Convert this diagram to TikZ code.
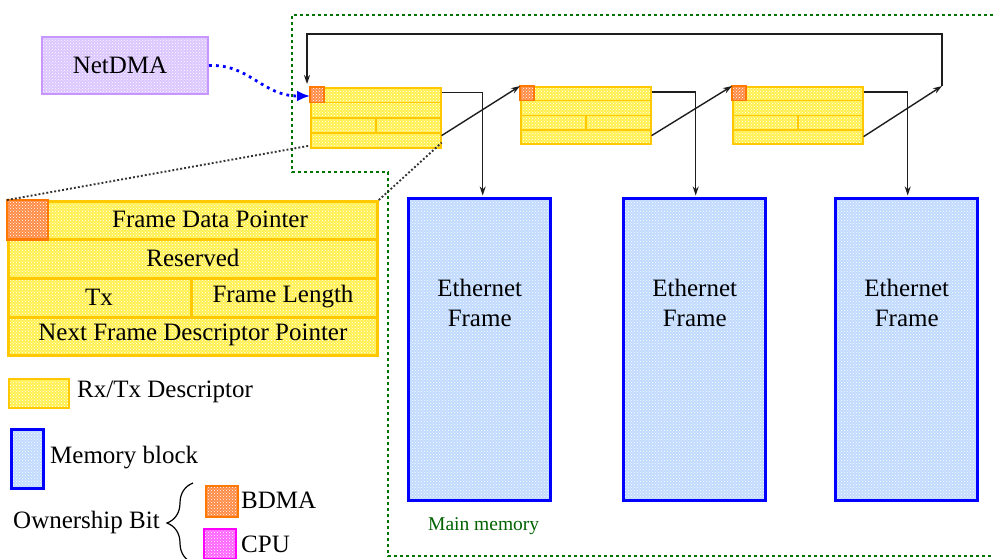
\documentclass[tikz,border=0pt]{standalone}
\usepackage{fontspec}
\setmainfont{Liberation Serif}
\usetikzlibrary{arrows.meta,calc,patterns,decorations.pathreplacing}

\definecolor{descfill}{RGB}{255,240,80}
\definecolor{descedge}{RGB}{255,200,0}
\definecolor{memfill}{RGB}{192,218,255}
\definecolor{memedge}{RGB}{0,0,255}
\definecolor{netfill}{RGB}{220,198,255}
\definecolor{netedge}{RGB}{200,150,255}
\definecolor{bdmafill}{RGB}{255,140,70}
\definecolor{bdmaedge}{RGB}{255,120,0}
\definecolor{cpufill}{RGB}{255,100,255}
\definecolor{cpuedge}{RGB}{255,0,255}
\definecolor{framegreen}{RGB}{0,115,0}
\definecolor{conncol}{RGB}{30,30,30}

\tikzset{
  dotted texture/.style={preaction={fill=#1},
    preaction={pattern=crosshatch dots, pattern color=white}},
  descbox/.style={dotted texture=descfill, draw=descedge, line width=1.6pt,
    inner sep=0pt, rectangle},
  bigbox/.style={descbox, line width=2.8pt},
  descline/.style={draw=descedge, line width=1.6pt},
  bigline/.style={draw=descedge, line width=2.8pt},
  bdmabox/.style={dotted texture=bdmafill, draw=bdmaedge, line width=1.6pt},
  cpubox/.style={dotted texture=cpufill, draw=cpuedge, line width=2pt},
  membox/.style={dotted texture=memfill, draw=memedge, line width=3.4pt,
    inner sep=0pt, rectangle},
  netbox/.style={dotted texture=netfill, draw=netedge, line width=2pt,
    inner sep=0pt, rectangle},
  txt/.style={font=\fontsize{25}{30}\selectfont, inner sep=0pt, text=black},
  conn/.style={draw=conncol, line width=1.4pt,
    -{Stealth[length=9pt,width=6pt]}},
  frame/.style={draw=framegreen, line width=2.6pt, dash pattern=on 2.6pt off 3.4pt},
  bluedots/.style={draw=blue, line width=2.8pt, dash pattern=on 2.8pt off 4.2pt,
    -{Latex[length=13pt,width=11pt]}},
  graydots/.style={draw=black!80, line width=1.9pt, dash pattern=on 1.9pt off 2.1pt},
}

\begin{document}
\begin{tikzpicture}[x=1pt,y=-1pt]
\useasboundingbox (0,0) rectangle (993,558);

% main-memory region
\draw[frame] (993,15) -- (292,15) -- (292,172) -- (388,172) -- (388,556) -- (993,556);

% NetDMA engine
\node[netbox, minimum width=166pt, minimum height=57pt, anchor=north west]
  (net) at (41,36) {};
\node[txt] (nett) at ($(net.center)+(-5,0)$) {NetDMA};

% descriptor ring
\foreach \n/\x/\y/\h in {d1/310/87/60, d2/520/86/57, d3/732/86/57}{
  \node[descbox, minimum width=130pt, minimum height=\h pt, anchor=north west]
    (\n) at (\x,\y) {};
  \draw[descline] ($(\n.north west)!0.25!(\n.south west)$) -- ($(\n.north east)!0.25!(\n.south east)$);
  \draw[descline] ($(\n.north west)!0.5!(\n.south west)$) -- ($(\n.north east)!0.5!(\n.south east)$);
  \draw[descline] ($(\n.north west)!0.75!(\n.south west)$) -- ($(\n.north east)!0.75!(\n.south east)$);
  \draw[descline] ($(\n.north)!0.5!(\n.south)$) -- ($(\n.north)!0.75!(\n.south)$);
  \draw[bdmabox] (\n.north west) rectangle ($(\n.north west)!0.25!(\n.south west)+(14,0)$);
}

% frame buffers
\foreach \m/\x in {m1/407, m2/622, m3/834}{
  \node[membox, minimum width=142pt, minimum height=302pt, anchor=north west]
    (\m) at (\x,197) {};
  \node[txt, align=center] (\m t) at ($(\m.north)+(0,106)$) {Ethernet\\Frame};
}
\node[font=\fontsize{19.5}{22}\selectfont, text=framegreen!85!black, inner sep=0pt]
  (mainmem) at ($(m1.south)+(4,24)$) {Main memory};

% descriptor -> buffer pointers
\draw[conn, shorten >=1.5pt] ($(d1.north east)+(0,5.5)$) -| ($(m1.north)+(3,0)$);
\draw[conn, shorten >=1.5pt] ($(d2.north east)+(0,6)$) -| ($(m2.north)+(1,0)$);
\draw[conn, shorten >=1.5pt] ($(d3.north east)+(0,6)$) -| ($(m3.north)+(1,0)$);

% next-descriptor links
\coordinate (loop) at (942,86);
\coordinate (looptop) at (942,34);
\coordinate (ret) at ($(d1.north west)+(-3,-3)$);
\draw[conn] ($(d1.south east)+(0,-13)$) -- (d2.north west);
\draw[conn] ($(d2.south east)+(0,-9)$) -- (d3.north west);
\draw[conn] ($(d3.south east)+(0,-8)$) -- (loop);
\draw[conn] (loop) -- (looptop) -| (ret);

% NetDMA points at the first descriptor
\draw[bluedots] (net.east) .. controls (250,64) and (262,96) .. ($(d1.north west)+(0,9)$);

% enlarged descriptor
\node[bigbox, minimum width=369pt, minimum height=154pt, anchor=north west]
  (big) at (7,200) {};
\draw[bigline] ($(big.north west)!0.25!(big.south west)$) -- ($(big.north east)!0.25!(big.south east)$);
\draw[bigline] ($(big.north west)!0.5!(big.south west)$) -- ($(big.north east)!0.5!(big.south east)$);
\draw[bigline] ($(big.north west)!0.75!(big.south west)$) -- ($(big.north east)!0.75!(big.south east)$);
\draw[bigline] ($(big.north west)!0.5!(big.south west)+(184.5,0)$) -- ($(big.north west)!0.75!(big.south west)+(184.5,0)$);
\draw[bdmabox, line width=2.8pt, draw=bdmaedge] (big.north west) rectangle ($(big.north west)!0.25!(big.south west)+(41,0)$);
\node[txt] (fdp) at ($(big.north west)+(203,19.5)$) {Frame Data Pointer};
\node[txt] (res) at ($(big.north)+(0,58)$) {Reserved};
\node[txt] (tx) at ($(big.north west)+(92,97)$) {Tx};
\node[txt] (flen) at ($(big.north west)+(276,97)$) {Frame Length};
\node[txt] (nfdp) at ($(big.north)+(0,135)$) {Next Frame Descriptor Pointer};

% zoom lines
\draw[graydots] (big.north west) -- ($(d1.south west)+(0,-3)$);
\draw[graydots] (big.north east) -- ($(d1.south east)+(0,-6)$);

% legend
\node[descbox, minimum width=60pt, minimum height=29pt, anchor=north west]
  (legdesc) at (8,378) {};
\node[txt, anchor=west] (legdesct) at (77,392) {Rx/Tx Descriptor};
\node[membox, minimum width=32pt, minimum height=59pt, anchor=north west]
  (legmem) at (10,428) {};
\node[txt, anchor=west] (legmemt) at (50,458) {Memory block};
\node[txt, anchor=west] (own) at (13,522) {Ownership Bit};
\draw[line width=1.2pt, decorate, decoration={brace, amplitude=26pt}]
  (193,563) -- (193,483);
\node[bdmabox, minimum width=32pt, minimum height=31pt, anchor=north west, inner sep=0pt]
  (legbdma) at (205,485) {};
\node[txt, anchor=west] (legbdmat) at (241,500) {BDMA};
\node[cpubox, minimum width=32pt, minimum height=30pt, anchor=north west, inner sep=0pt]
  (legcpu) at (203,528) {};
\node[txt, anchor=base west] (legcput) at (241,552) {CPU};
\end{tikzpicture}
\end{document}
